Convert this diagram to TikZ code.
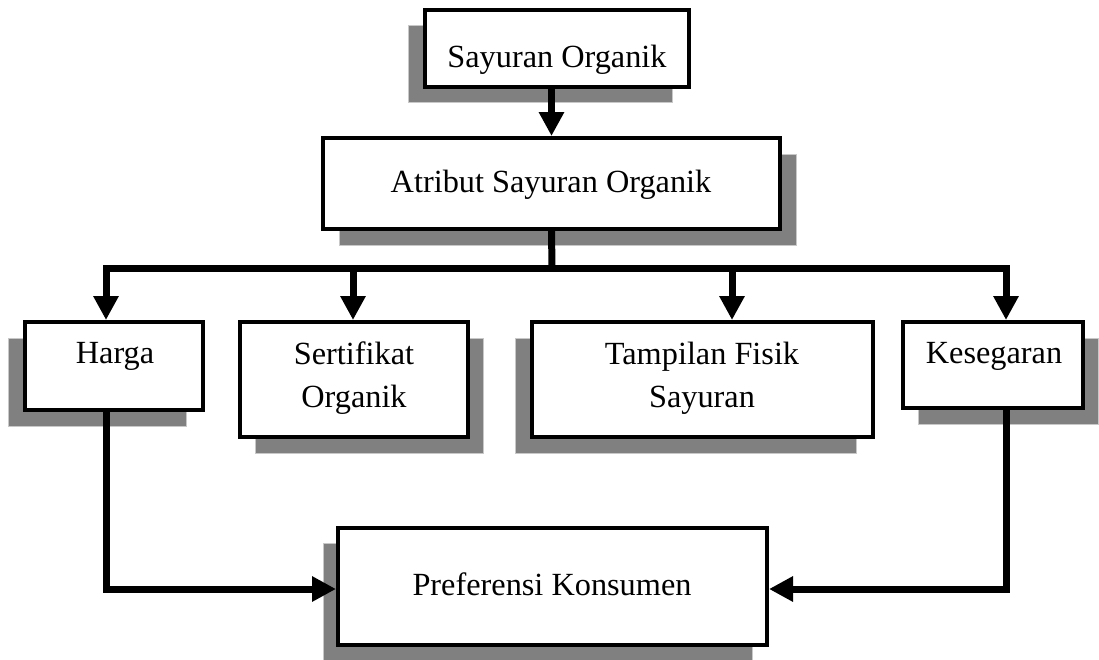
\documentclass[tikz,border=0pt]{standalone}
\usepackage{fontspec}
\setmainfont{Liberation Serif}
\usetikzlibrary{arrows.meta}
\definecolor{shadowgray}{HTML}{808080}
\definecolor{shadowedge}{HTML}{C8C8C8}
\newcommand\mkbox[7]{%
  \filldraw[shadowbox] (#2+#6,#3+#7) rectangle (#4+#6,#5+#7);
  \node[box,minimum width=#4-#2,minimum height=#5-#3] (#1) at ({(#2+#4)/2},{(#3+#5)/2}) {};}
\begin{document}
\begin{tikzpicture}[x=1pt,y=-1pt,
  box/.style={draw=black,line width=4pt,fill=white,inner sep=0pt},
  shadowbox/.style={fill=shadowgray,draw=shadowedge,line width=1pt},
  txt/.style={font=\fontsize{32.3}{43}\selectfont,align=center,anchor=base,inner sep=0pt},
  conn/.style={line width=7pt,line cap=rect},
  arr/.style={line width=7pt,-{Triangle[width=24pt,length=24pt]}}]
\useasboundingbox (0,0) rectangle (1099,659);
\mkbox{top}{425}{10}{689}{87}{-17}{15}
\mkbox{atr}{323}{138}{780}{229}{16}{16}
\mkbox{harga}{25}{322}{203}{410}{-17}{16}
\mkbox{sert}{240}{322}{468}{437}{15}{16}
\mkbox{tamp}{532}{322}{873}{437}{-17}{16}
\mkbox{kes}{903}{322}{1083}{408}{15}{16}
\mkbox{pref}{338}{528}{767}{645}{-15}{15}
\node[txt] (t1) at (557,67) {Sayuran Organik};
\node[txt] (t2) at (551,192) {Atribut Sayuran Organik};
\node[txt] (t3) at (115,363) {Harga};
\node[txt] (t4) at (354,407) {Sertifikat\\Organik};
\node[txt] (t5) at (702,407) {Tampilan Fisik\\Sayuran};
\node[txt] (t6) at (994,363) {Kesegaran};
\node[txt] (t7) at (552,595) {Preferensi Konsumen};
\coordinate (bus) at (552,268);
\coordinate (b1) at (106,268);
\coordinate (b2) at (353,268);
\coordinate (b3) at (732,268);
\coordinate (b4) at (1006,268);
\coordinate (pw) at ([yshift=-2.5pt]pref.west);
\coordinate (pe) at ([yshift=-2.5pt]pref.east);
\draw[arr] (top.south -| atr.north) -- (atr.north);
\draw[conn] (atr.south) -- (bus);
\draw[conn] (b1) -- (b4);
\draw[arr] (b1) -- (b1 |- harga.north);
\draw[arr] (b2) -- (b2 |- sert.north);
\draw[arr] (b3) -- (b3 |- tamp.north);
\draw[arr] (b4) -- (b4 |- kes.north);
\draw[arr] (b1 |- harga.south) -- (b1 |- pw) -- (pw);
\draw[arr] (b4 |- kes.south) -- (b4 |- pe) -- (pe);
\end{tikzpicture}
\end{document}
